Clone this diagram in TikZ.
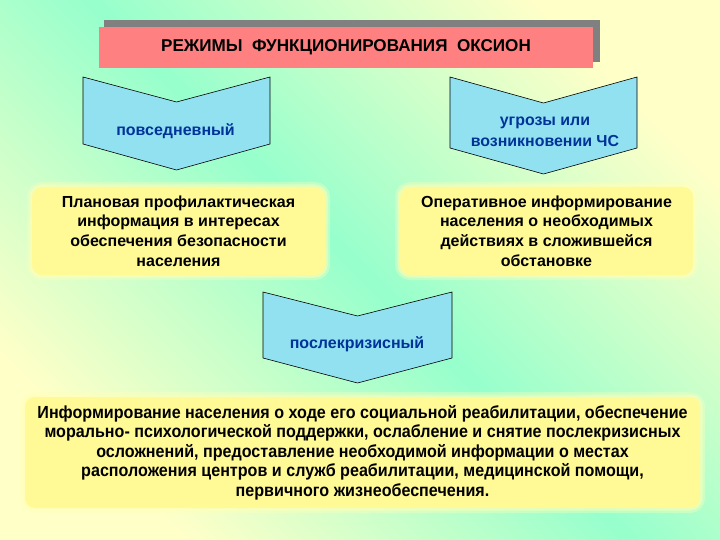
\documentclass[tikz,border=0pt]{standalone}
\usepackage{fontspec}
\setmainfont{Liberation Sans}
\newfontfamily\narrowfont[FakeStretch=0.92]{Liberation Sans}
\definecolor{bgmint}{RGB}{150,255,204}
\definecolor{bgyellow}{RGB}{255,255,200}
\definecolor{titlepink}{RGB}{255,128,128}
\definecolor{shadowgray}{RGB}{128,128,128}
\definecolor{chevfill}{RGB}{145,225,240}
\definecolor{chevtext}{RGB}{0,51,153}
\definecolor{boxyellow}{RGB}{255,250,150}
\definecolor{glowyellow}{RGB}{255,255,185}
\begin{document}
\begin{tikzpicture}[x=1pt,y=-1pt,
  chevron/.style={fill=chevfill, draw=black, line width=0.6pt, line join=miter},
  chevlabel/.style={text=chevtext, font=\bfseries\fontsize{16}{20}\selectfont, align=center, inner sep=0pt},
  infobox/.style={rectangle, rounded corners=10pt, fill=boxyellow, inner sep=0pt, align=center,
     font=\bfseries\fontsize{16}{19.8}\selectfont,
     preaction={draw=glowyellow, line width=10pt, opacity=0.35},
     preaction={draw=glowyellow, line width=5pt, opacity=0.5}},
  titlebox/.style={rectangle, fill=titlepink, inner sep=0pt, font=\bfseries\fontsize{17.1}{20}\selectfont}
]
\useasboundingbox (0,0) rectangle (720,540);
\shade[top color=bgyellow, bottom color=bgyellow, middle color=bgmint, shading angle=-45] (0,0) rectangle (720,540);

% title
\fill[shadowgray] (104,20) rectangle (600,62);
\node[titlebox, minimum width=494pt, minimum height=41pt] (title) at (346,47.5)
  {РЕЖИМЫ\ \ ФУНКЦИОНИРОВАНИЯ\ \ ОКСИОН};

% chevrons
\path[chevron] (83,77) -- (176.5,102) -- (270,77) -- (270,144) -- (176.5,170) -- (83,144) -- cycle;
\node[chevlabel] (daily) at (175.5,131) {повседневный};

\path[chevron] (450,77) -- (543.5,103) -- (637,77) -- (637,148) -- (543.5,174) -- (450,148) -- cycle;
\node[chevlabel, font=\bfseries\fontsize{15.9}{20.5}\selectfont] (threat) at (545,132) {угрозы или\\возникновении ЧС};

\path[chevron] (263,292) -- (357.5,316) -- (452,292) -- (452,358) -- (357.5,383) -- (263,358) -- cycle;
\node[chevlabel] (post) at (357,344) {послекризисный};

% info boxes
\node[infobox, minimum width=293pt, minimum height=88pt] (plan) at (178.5,231)
  {Плановая профилактическая\\информация в интересах\\обеспечения безопасности\\населения};
\node[infobox, minimum width=293pt, minimum height=88pt] (oper) at (546.5,231)
  {Оперативное информирование\\населения о необходимых\\действиях в сложившейся\\обстановке};
\node[infobox, minimum width=675pt, minimum height=111pt, font=\narrowfont\bfseries\fontsize{17.5}{19.5}\selectfont] (info) at (362.5,452.5)
  {Информирование населения о ходе его социальной реабилитации, обеспечение\\морально- психологической поддержки, ослабление и снятие послекризисных\\осложнений, предоставление необходимой информации о местах\\расположения центров и служб реабилитации, медицинской помощи,\\первичного жизнеобеспечения.};
\end{tikzpicture}
\end{document}
